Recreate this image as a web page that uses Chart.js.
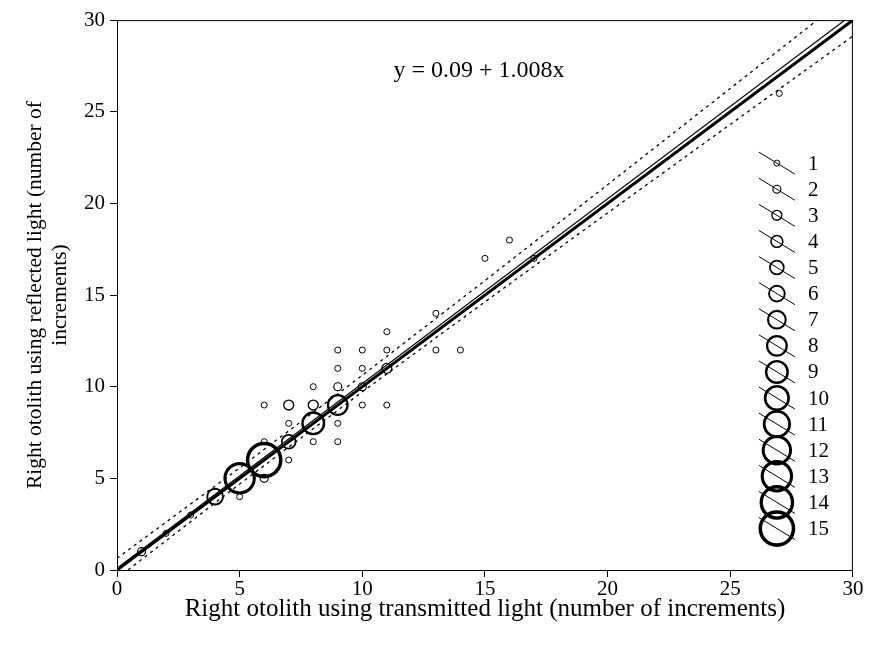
<!DOCTYPE html>
<html>
<head>
<meta charset="utf-8">
<script src="https://cdn.jsdelivr.net/npm/chart.js@4/dist/chart.umd.min.js"></script>
<style>
  html, body { margin: 0; padding: 0; background: #fff; }
  #wrap { width: 873px; height: 649px; }
</style>
</head>
<body>
<div id="wrap"><canvas id="c" width="873" height="649"></canvas></div>
<script>
// Increment counts: transmitted light (x) vs reflected light (y), with number of fish per pair
const transmitted = [1, 2, 3, 4, 5, 5, 6, 6, 6, 6, 7, 7, 7, 7, 8, 8, 8, 8, 9, 9, 9, 9, 9, 9, 10, 10, 10, 10, 11, 11, 11, 11, 13, 13, 14, 15, 16, 17, 27];
const reflected   = [1, 2, 3, 4, 4, 5, 5, 6, 7, 9, 6, 7, 8, 9, 7, 8, 9, 10, 7, 8, 9, 10, 11, 12, 9, 10, 11, 12, 9, 11, 12, 13, 12, 14, 12, 17, 18, 17, 26];
const fishCount   = [2, 1, 1, 6, 1, 13, 2, 15, 1, 1, 1, 5, 1, 3, 1, 9, 3, 1, 1, 1, 8, 2, 1, 1, 1, 2, 1, 1, 1, 3, 1, 1, 1, 1, 1, 1, 1, 1, 1];

// Fitted regression
const INTERCEPT = 0.09;
const SLOPE = 1.008;

// 95% confidence band around the regression
const bandX     = [0, 5, 10, 15, 20, 25, 30];
const upperBand = [0.64, 5.57, 10.62, 15.79, 21.02, 26.27, 31.53];
const lowerBand = [-0.46, 4.69, 9.72, 14.63, 19.48, 24.31, 29.13];

// Size key entries
const legendCounts = [1, 2, 3, 4, 5, 6, 7, 8, 9, 10, 11, 12, 13, 14, 15];

const axisTicks = [0, 5, 10, 15, 20, 25, 30];

const SERIF = "'Liberation Serif', 'Times New Roman', serif";

function radiusFor(n) { return 2.05 + 0.97 * n; }
function strokeFor(n) { return 1 + (n - 1) * 0.18; }

const bubbles = transmitted.map((x, i) => ({ x: x, y: reflected[i], r: radiusFor(fishCount[i]), n: fishCount[i] }));

const sizeKeyPlugin = {
  id: 'sizeKey',
  afterDatasetsDraw(chart) {
    const { ctx, chartArea } = chart;
    const cx = chartArea.right - 76;
    const y0 = chartArea.top + 143;
    const step = 26.1;
    ctx.save();
    ctx.strokeStyle = '#000';
    ctx.fillStyle = '#000';
    ctx.font = '21px ' + SERIF;
    ctx.textBaseline = 'middle';
    ctx.textAlign = 'left';
    legendCounts.forEach((n, i) => {
      const cy = y0 + i * step;
      ctx.lineWidth = 1;
      ctx.beginPath();
      ctx.moveTo(cx - 18, cy - 11);
      ctx.lineTo(cx + 18, cy + 11);
      ctx.stroke();
      ctx.lineWidth = strokeFor(n);
      ctx.beginPath();
      ctx.arc(cx, cy, radiusFor(n), 0, Math.PI * 2);
      ctx.stroke();
      ctx.fillText(String(n), cx + 31, cy + 1);
    });
    // regression equation
    ctx.textAlign = 'center';
    ctx.font = '24px ' + SERIF;
    ctx.fillText('y = ' + INTERCEPT.toFixed(2) + ' + ' + SLOPE.toFixed(3) + 'x', chartArea.left + 362, chartArea.top + 51);
    // frame
    ctx.lineWidth = 1;
    ctx.strokeRect(chartArea.left + 0.5, chartArea.top + 0.5, chartArea.right - chartArea.left - 1, chartArea.bottom - chartArea.top);
    ctx.restore();
  }
};

const tickFont = { family: SERIF, size: 21 };

new Chart(document.getElementById('c'), {
  type: 'bubble',
  data: {
    datasets: [
      {
        type: 'line',
        data: [{ x: 0, y: 0 }, { x: 30, y: 30 }],
        borderColor: '#000',
        borderWidth: 3,
        pointRadius: 0,
        clip: 0,
        order: 1
      },
      {
        type: 'line',
        data: [{ x: 0, y: INTERCEPT }, { x: 30, y: INTERCEPT + SLOPE * 30 }],
        borderColor: '#000',
        borderWidth: 1.2,
        pointRadius: 0,
        clip: 0,
        order: 1
      },
      {
        type: 'line',
        data: bandX.map((x, i) => ({ x: x, y: upperBand[i] })),
        borderColor: '#000',
        borderWidth: 1.3,
        borderDash: [3, 4],
        pointRadius: 0,
        clip: 0,
        order: 1
      },
      {
        type: 'line',
        data: bandX.map((x, i) => ({ x: x, y: lowerBand[i] })),
        borderColor: '#000',
        borderWidth: 1.3,
        borderDash: [3, 4],
        pointRadius: 0,
        clip: 0,
        order: 1
      },
      {
        data: bubbles,
        backgroundColor: 'rgba(0,0,0,0)',
        borderColor: '#000',
        borderWidth: (c) => c.raw ? strokeFor(c.raw.n) : 1,
        clip: 0,
        order: 2
      }
    ]
  },
  options: {
    responsive: false,
    animation: false,
    layout: { padding: { left: 0, top: 18, right: 18, bottom: 0 } },
    plugins: { legend: { display: false }, tooltip: { enabled: false } },
    scales: {
      x: {
        type: 'linear',
        min: 0, max: 30,
        afterBuildTicks: (s) => { s.ticks = axisTicks.map(v => ({ value: v })); },
        afterFit: (s) => { s.height = 79; s.paddingLeft = 0; s.paddingRight = 0; },
        ticks: { font: tickFont, color: '#000', padding: 0 },
        grid: { drawOnChartArea: false, drawTicks: true, tickLength: 7, color: '#000' },
        border: { display: true, color: '#000', width: 1 },
        title: {
          display: true,
          text: 'Right otolith using transmitted light (number of increments)',
          font: { family: SERIF, size: 25, lineHeight: 1.2 }, color: '#000',
          padding: { top: 0, bottom: 25 }
        }
      },
      y: {
        type: 'linear',
        min: 0, max: 30,
        afterBuildTicks: (s) => { s.ticks = axisTicks.map(v => ({ value: v })); },
        afterFit: (s) => { s.width = 117; s.paddingTop = 0; s.paddingBottom = 0; },
        ticks: { font: tickFont, color: '#000', padding: 5 },
        grid: { drawOnChartArea: false, drawTicks: true, tickLength: 7, color: '#000' },
        border: { display: true, color: '#000', width: 1 },
        title: {
          display: true,
          text: ['Right otolith using reflected light (number of', 'increments)'],
          font: { family: SERIF, size: 21.5, lineHeight: 1.2 }, color: '#000',
          padding: { top: 22, bottom: 0 }
        }
      }
    }
  },
  plugins: [sizeKeyPlugin]
});
</script>
</body>
</html>
